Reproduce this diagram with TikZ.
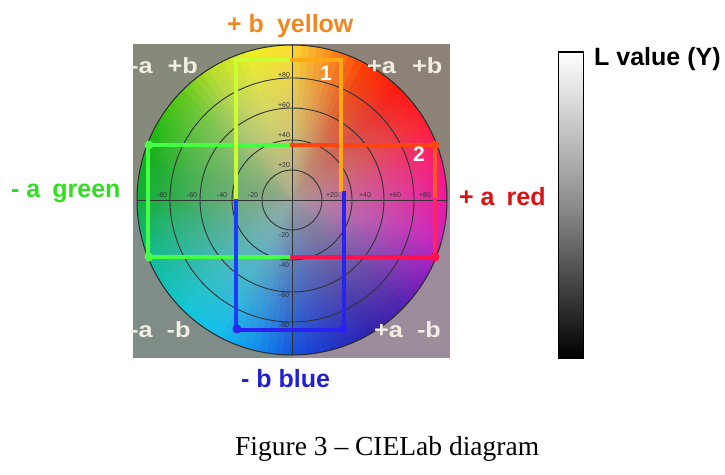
\documentclass[tikz,border=0pt]{standalone}
\usepackage{fontspec}
\setmainfont{Liberation Serif}
\setsansfont{Liberation Sans}
\newfontfamily\widesans{Liberation Sans}[FakeStretch=1.15]
\usetikzlibrary{fadings}
% hue stops every 15 degrees (visual, counter-clockwise from +a)
\definecolor{h0}{HTML}{F018A0}
\definecolor{h1}{HTML}{FF1870}
\definecolor{h2}{HTML}{FF2030}
\definecolor{h3}{HTML}{FF1810}
\definecolor{h4}{HTML}{FF3800}
\definecolor{h5}{HTML}{FF9020}
\definecolor{h6}{HTML}{FFE030}
\definecolor{h7}{HTML}{EEF020}
\definecolor{h8}{HTML}{B8E020}
\definecolor{h9}{HTML}{58C810}
\definecolor{h10}{HTML}{28BC10}
\definecolor{h11}{HTML}{10B020}
\definecolor{h12}{HTML}{10B040}
\definecolor{h13}{HTML}{10B880}
\definecolor{h14}{HTML}{10C0B0}
\definecolor{h15}{HTML}{10C8D8}
\definecolor{h16}{HTML}{10C0F0}
\definecolor{h17}{HTML}{1090F0}
\definecolor{h18}{HTML}{1050E0}
\definecolor{h19}{HTML}{2030C8}
\definecolor{h20}{HTML}{3020B0}
\definecolor{h21}{HTML}{5020B0}
\definecolor{h22}{HTML}{9020C0}
\definecolor{h23}{HTML}{D020C0}
\definecolor{h24}{HTML}{F018A0}
\definecolor{bgTL}{HTML}{868A7A}
\definecolor{bgTR}{HTML}{8C8278}
\definecolor{bgBL}{HTML}{7F8C88}
\definecolor{bgBR}{HTML}{9C8C9C}
\definecolor{centergray}{HTML}{A4A69C}
\definecolor{ringcol}{HTML}{303434}
\definecolor{cornertxt}{HTML}{F2EEE2}
\definecolor{cYG}{HTML}{CCFF33}
\definecolor{cOR}{HTML}{FFAA11}
\definecolor{cBL}{HTML}{2A22F0}
\definecolor{cBL2}{HTML}{1A3CFF}
\definecolor{cGR}{HTML}{44FF44}
\definecolor{cRO}{HTML}{FF4411}
\definecolor{cRO2}{HTML}{FF5522}
\definecolor{cCR}{HTML}{FF1150}
\definecolor{cCR2}{HTML}{FF2266}
\definecolor{tYellow}{HTML}{EE8822}
\definecolor{tGreen}{HTML}{33DD22}
\definecolor{tRed}{HTML}{DD1111}
\definecolor{tBlue}{HTML}{2222CC}
\tikzfading[name=cfade, inner color=transparent!10, outer color=transparent!100]
\tikzset{
  bigsans/.style={font=\sffamily\bfseries\fontsize{25}{29}\selectfont, inner sep=0pt, anchor=base west},
  cornerlbl/.style={font=\widesans\bfseries\fontsize{22}{26}\selectfont, inner sep=0pt, anchor=base west, text=cornertxt},
  numlbl/.style={font=\sffamily\bfseries\fontsize{21}{25}\selectfont, inner sep=0pt, anchor=base west, text=white},
  tick/.style={font=\sffamily\fontsize{7}{8}\selectfont, inner sep=0pt, text=ringcol},
  ringline/.style={draw=ringcol, line width=0.9pt},
  seg/.style={line width=4.5pt, line cap=rect},
  dotmark/.style={circle, inner sep=0pt, minimum size=9pt},
}
\begin{document}
\begin{tikzpicture}[x=1pt,y=-1pt]
\useasboundingbox (0,0) rectangle (725,474);
\fill[white] (0,0) rectangle (725,474);
% background square
\fill[bgTL] (133,44) rectangle (292,200);
\fill[bgTR] (292,44) rectangle (450,200);
\fill[bgBL] (133,200) rectangle (292,358);
\fill[bgBR] (292,200) rectangle (450,358);
\coordinate (c) at (292,200);
% colour wheel
\begin{scope}
\clip (c) circle[radius=155pt];
\begin{scope}[shift={(292,200)}]
\foreach \s in {0,...,23}{
  \pgfmathtruncatemacro\t{\s+1}
  \foreach \k in {0,...,4}{
    \pgfmathtruncatemacro\p{100-20*\k}
    \pgfmathsetmacro\aa{-(15*\s+3*\k)+0.3}
    \pgfmathsetmacro\ab{-(15*\s+3*\k)-1.5}
    \pgfmathsetmacro\ac{-(15*\s+3*\k)-3.3}
    \colorlet{wc}{h\s!\p!h\t}
    \fill[wc] (0,0) -- (\aa:170) -- (\ab:170) -- (\ac:170) -- cycle;
  }
}
\end{scope}
\fill[white, opacity=0.3, path fading=cfade] (245,140) circle[radius=90pt];
\fill[centergray, path fading=cfade] (c) circle[radius=155pt];
\end{scope}
% rings and axes
\foreach \r in {30,60,92,122}{ \draw[ringline] (c) circle[radius=\r pt]; }
\draw[ringline] (137,200) -- (447,200);
\draw[ringline] (292,45) -- (292,355);
\draw[draw=ringcol!80!black, line width=1pt] (c) circle[radius=155pt];
% tick labels
\foreach \v/\y in {+80/75,+60/105,+40/135,+20/165,-20/235,-40/265,-60/295,-80/325}{
  \node[tick] (tv\y) at (284,\y) {\v};
}
\foreach \v/\x in {-80/162,-60/192,-40/222,-20/253,+20/332,+40/365,+60/395,+80/425}{
  \node[tick] (th\x) at (\x,195) {\v};
}
% rectangle 2 (horizontal)
\draw[seg, cGR] (148,145) -- (292,145);
\draw[seg, cRO] (292,145) -- (435,145);
\draw[seg, cGR] (148,145) -- (148,257);
\draw[seg, cGR] (148,257) -- (292,257);
\draw[seg, cCR] (292,257) -- (435,257);
\draw[seg, cRO2] (435,145) -- (435,200);
\draw[seg, cCR2] (435,200) -- (435,257);
\node[dotmark, fill=cGR] (d1) at (149,145) {};
\node[dotmark, fill=cGR] (d2) at (149,257) {};
\node[dotmark, fill=cRO] (d3) at (435,145) {};
\node[dotmark, fill=cCR] (d4) at (435,257) {};
% rectangle 1 (vertical)
\draw[seg, cYG] (236,200) -- (236,60);
\draw[seg, cYG] (236,60) -- (292,60);
\draw[seg, cOR] (292,60) -- (341,60);
\draw[seg, cOR] (341,60) -- (341,190);
\draw[seg, cBL] (344,193) -- (344,330);
\draw[seg, cBL2] (236,201) -- (236,330);
\draw[seg, cBL] (236,330) -- (344,330);
\node[dotmark, fill=cBL] (d5) at (237,329) {};
\node[dotmark, fill=cBL] (d6) at (343,329) {};
% numbers
\node[numlbl] (n1) at (320,80) {1};
\node[numlbl] (n2) at (413,161) {2};
% corner labels
\node[cornerlbl] (ctl) at (130,73) {-a\hspace{15pt}+b};
\node[cornerlbl] (ctr) at (367,73) {+a\hspace{16pt}+b};
\node[cornerlbl] (cbl) at (130,337) {-a\hspace{14pt}-b};
\node[cornerlbl] (cbr) at (374,337) {+a\hspace{14pt}-b};
% outside labels
\node[bigsans, text=tYellow] (ly) at (227,32) {+ b\hspace{13pt}yellow};
\node[bigsans, text=tGreen] (lg) at (11,197) {- a\hspace{12pt}green};
\node[bigsans, text=tRed] (lr) at (459,205) {+ a\hspace{12pt}red};
\node[bigsans, text=tBlue] (lb) at (241,387) {- b blue};
% L bar
\shade[top color=white, bottom color=black, middle color=black!45] (558,52) rectangle (583,358);
\draw[black, line width=1pt] (558,52) rectangle (583,358);
\draw[black, line width=2pt] (557.5,52) -- (583.5,52);
\node[bigsans, text=black] (lv) at (594,65) {L value (Y)};
% caption
\node[inner sep=0pt, anchor=base west, font=\fontsize{27.5}{32}\selectfont] (cap) at (235,455) {Figure 3 – CIELab diagram};
\end{tikzpicture}
\end{document}
